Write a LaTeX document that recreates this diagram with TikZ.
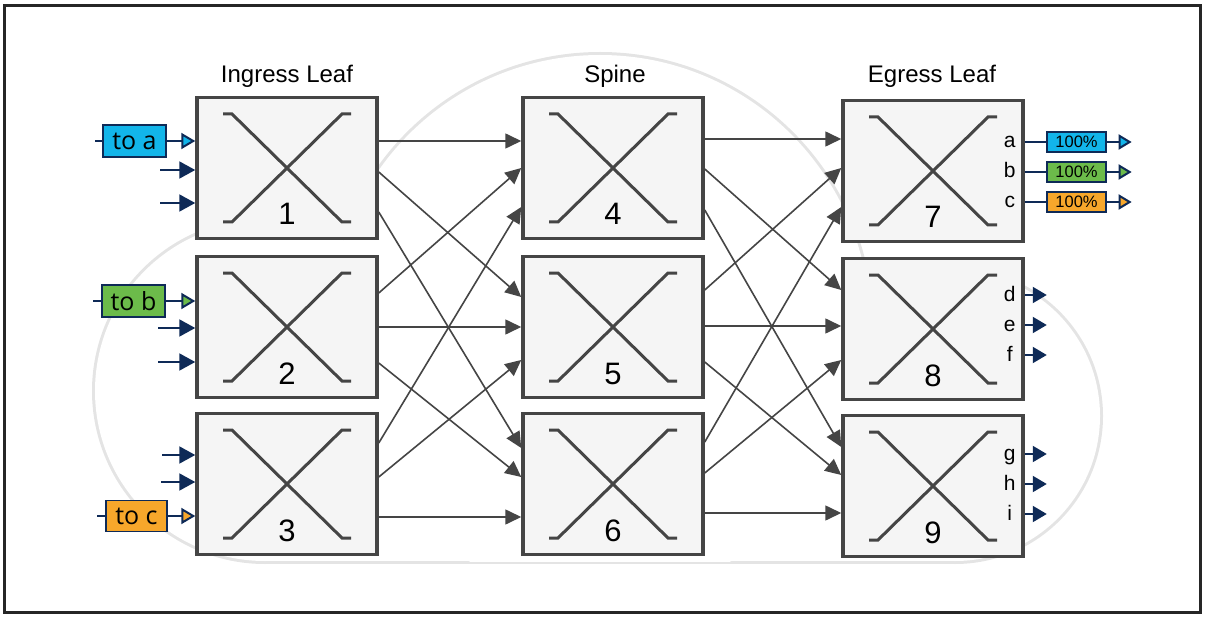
\documentclass[tikz,border=0pt]{standalone}
\usepackage{fontspec}
\setmainfont{Liberation Sans}
\newfontfamily\lblfont{Open Sans}
\usetikzlibrary{arrows.meta,calc}
\definecolor{navy}{HTML}{0E2A57}
\definecolor{boxgray}{HTML}{454545}
\definecolor{boxfill}{HTML}{F5F5F5}
\definecolor{cloudgray}{HTML}{E4E4E4}
\definecolor{cyanl}{HTML}{12B5EA}
\definecolor{greenl}{HTML}{6CBB4A}
\definecolor{orangel}{HTML}{F7A72B}
\definecolor{framec}{HTML}{262626}
\begin{document}
\begin{tikzpicture}[x=1pt,y=-1pt,
  switchbox/.style={draw=boxgray, line width=3.5pt, fill=boxfill,
    minimum width=180pt, minimum height=141pt, inner sep=0pt,
    path picture={
      \draw[boxgray, line width=3pt]
        ($(path picture bounding box.center)+(-64,-54)$) -- ++(9,0) -- ++(110,108) -- ++(9,0);
      \draw[boxgray, line width=3pt]
        ($(path picture bounding box.center)+(64,-54)$) -- ++(-9,0) -- ++(-110,108) -- ++(-9,0);
    }},
  num/.style={font=\fontsize{31}{31}\selectfont, inner sep=0pt, anchor=base},
  title/.style={font=\fontsize{24}{26}\selectfont, inner sep=0pt, anchor=base},
  link/.style={draw=boxgray, line width=1.6pt, -{Triangle[length=16pt,width=15pt]}},
  navyln/.style={draw=navy, line width=2pt},
  inarrow/.style={draw=navy, line width=2pt, -{Triangle[length=16pt,width=17pt,fill=navy]}},
  outarrow/.style={draw=navy, line width=2pt, -{Triangle[length=14pt,width=16pt,fill=navy]}},
  tag/.style={draw=navy, line width=1.8pt, minimum width=63pt, minimum height=32pt,
    inner sep=0pt, font=\lblfont\fontsize{25}{25}\selectfont},
  pct/.style={draw=navy, line width=1.3pt, minimum width=59pt, minimum height=20pt,
    inner sep=0pt, font=\fontsize{16.5}{17}\selectfont},
  letter/.style={font=\fontsize{21}{21}\selectfont, inner sep=0pt, anchor=base},
]
\useasboundingbox (0,0) rectangle (1206,620);

% cloud outline (union of shapes)
\draw[cloudgray, line width=6pt] (265,391) circle (170);
\draw[cloudgray, line width=6pt] (955,416) circle (145);
\draw[cloudgray, line width=6pt] (265,391) rectangle (955,561);
\begin{scope}
  \clip (0,0) rectangle (1206,561);
  \draw[cloudgray, line width=6pt] (600,325) circle (270);
  \fill[white] (600,325) circle (270);
\end{scope}
\fill[white] (265,391) circle (170);
\fill[white] (955,416) circle (145);
\fill[white] (265,391) rectangle (955,561);

% frame
\draw[framec, line width=3pt] (4.5,6) rectangle (1200.5,612.5);

% titles
\node[title] (tIn) at (287,83) {Ingress Leaf};
\node[title] (tSp) at (615,83) {Spine};
\node[title] (tEg) at (932,83) {Egress Leaf};

% switches
\node[switchbox] (L1) at (287,168) {};
\node[switchbox] (L2) at (287,327) {};
\node[switchbox] (L3) at (287,484) {};
\node[switchbox] (S4) at (613,168) {};
\node[switchbox] (S5) at (613,327) {};
\node[switchbox] (S6) at (613,484) {};
\node[switchbox] (E7) at (933,171) {};
\node[switchbox] (E8) at (933,329) {};
\node[switchbox] (E9) at (933,486) {};

\foreach \b/\t in {L1/1,L2/2,L3/3,S4/4,S5/5,S6/6,E7/7,E8/8,E9/9}
  \node[num] (n\t) at ($(\b.center)+(0,57)$) {\t};

% leaf -> spine
\foreach \a/\da/\b/\db in {L1/-27/S4/-27, L1/4/S5/-30, L1/44/S6/-36,
                           L2/-34/S4/0, L2/0/S5/0, L2/36/S6/-7,
                           L3/-41/S4/39, L3/-7/S5/33, L3/33/S6/33}
  \draw[link] ($(\a.east)+(0,\da)$) -- ($(\b.west)+(0,\db)$);

% spine -> egress
\foreach \a/\da/\b/\db in {S4/-29/E7/-32, S4/1/E8/-39, S4/42/E9/-39,
                           S5/-37/E7/-3, S5/-1/E8/-3, S5/35/E9/-11,
                           S6/-42/E7/36, S6/-11/E8/31, S6/29/E9/27}
  \draw[link] ($(\a.east)+(0,\da)$) -- ($(\b.west)+(0,\db)$);

% ingress inputs
\node[tag, fill=cyanl] (ta) at (134.5,141) {to a};
\draw[navyln] (ta.west) -- ++(-7,0);
\draw[navyln, -{Triangle[length=14pt,width=16pt,fill=cyanl]}] (ta.east) -- (ta.east -| L1.west);
\draw[inarrow] ($(L1.west)+(-35,2)$) -- ($(L1.west)+(0,2)$);
\draw[inarrow] ($(L1.west)+(-35,35)$) -- ($(L1.west)+(0,35)$);

\node[tag, fill=greenl] (tb) at (133.5,301) {to b};
\draw[navyln] (tb.west) -- ++(-8,0);
\draw[navyln, -{Triangle[length=14pt,width=16pt,fill=greenl]}] (tb.east) -- (tb.east -| L2.west);
\draw[inarrow] ($(L2.west)+(-37,1)$) -- ($(L2.west)+(0,1)$);
\draw[inarrow] ($(L2.west)+(-37,35)$) -- ($(L2.west)+(0,35)$);

\draw[inarrow] ($(L3.west)+(-33,-29)$) -- ($(L3.west)+(0,-29)$);
\draw[inarrow] ($(L3.west)+(-34,-2)$) -- ($(L3.west)+(0,-2)$);
\node[tag, fill=orangel, minimum width=61pt, minimum height=31pt] (tc) at (136.5,516) {to c};
\draw[navyln] (tc.west) -- ++(-8,0);
\draw[navyln, -{Triangle[length=14pt,width=16pt,fill=orangel]}] (tc.east) -- (tc.east -| L3.west);

% egress 7 outputs
\node[letter] (la) at ($(E7.east)+(-15,-23)$) {a};
\node[letter] (lb) at ($(E7.east)+(-15,7)$) {b};
\node[letter] (lc) at ($(E7.east)+(-15,37)$) {c};
\node[pct, fill=cyanl] (pa) at (1076.5,142) {100\%};
\node[pct, fill=greenl] (pb) at (1076.5,172) {100\%};
\node[pct, fill=orangel] (pc) at (1076.5,202) {100\%};
\draw[navyln] (pa.west -| E7.east) -- (pa.west);
\draw[navyln] (pb.west -| E7.east) -- (pb.west);
\draw[navyln] (pc.west -| E7.east) -- (pc.west);
\draw[navyln, -{Triangle[length=13pt,width=15pt,fill=cyanl]}] (pa.east) -- ++(25,0);
\draw[navyln, -{Triangle[length=13pt,width=15pt,fill=greenl]}] (pb.east) -- ++(25,0);
\draw[navyln, -{Triangle[length=13pt,width=15pt,fill=orangel]}] (pc.east) -- ++(25,0);

% egress 8 outputs
\node[letter] (ld) at ($(E8.east)+(-15,-28)$) {d};
\node[letter] (le) at ($(E8.east)+(-15,2)$) {e};
\node[letter] (lf) at ($(E8.east)+(-15,32)$) {f};
\foreach \dy in {-34,-4,26}
  \draw[outarrow] ($(E8.east)+(0,\dy)$) -- ++(22,0);

% egress 9 outputs
\node[letter] (lg) at ($(E9.east)+(-15,-26)$) {g};
\node[letter] (lh) at ($(E9.east)+(-15,4)$) {h};
\node[letter] (li) at ($(E9.east)+(-15,34)$) {i};
\foreach \dy in {-32,-2,28}
  \draw[outarrow] ($(E9.east)+(0,\dy)$) -- ++(22,0);

\end{tikzpicture}
\end{document}
